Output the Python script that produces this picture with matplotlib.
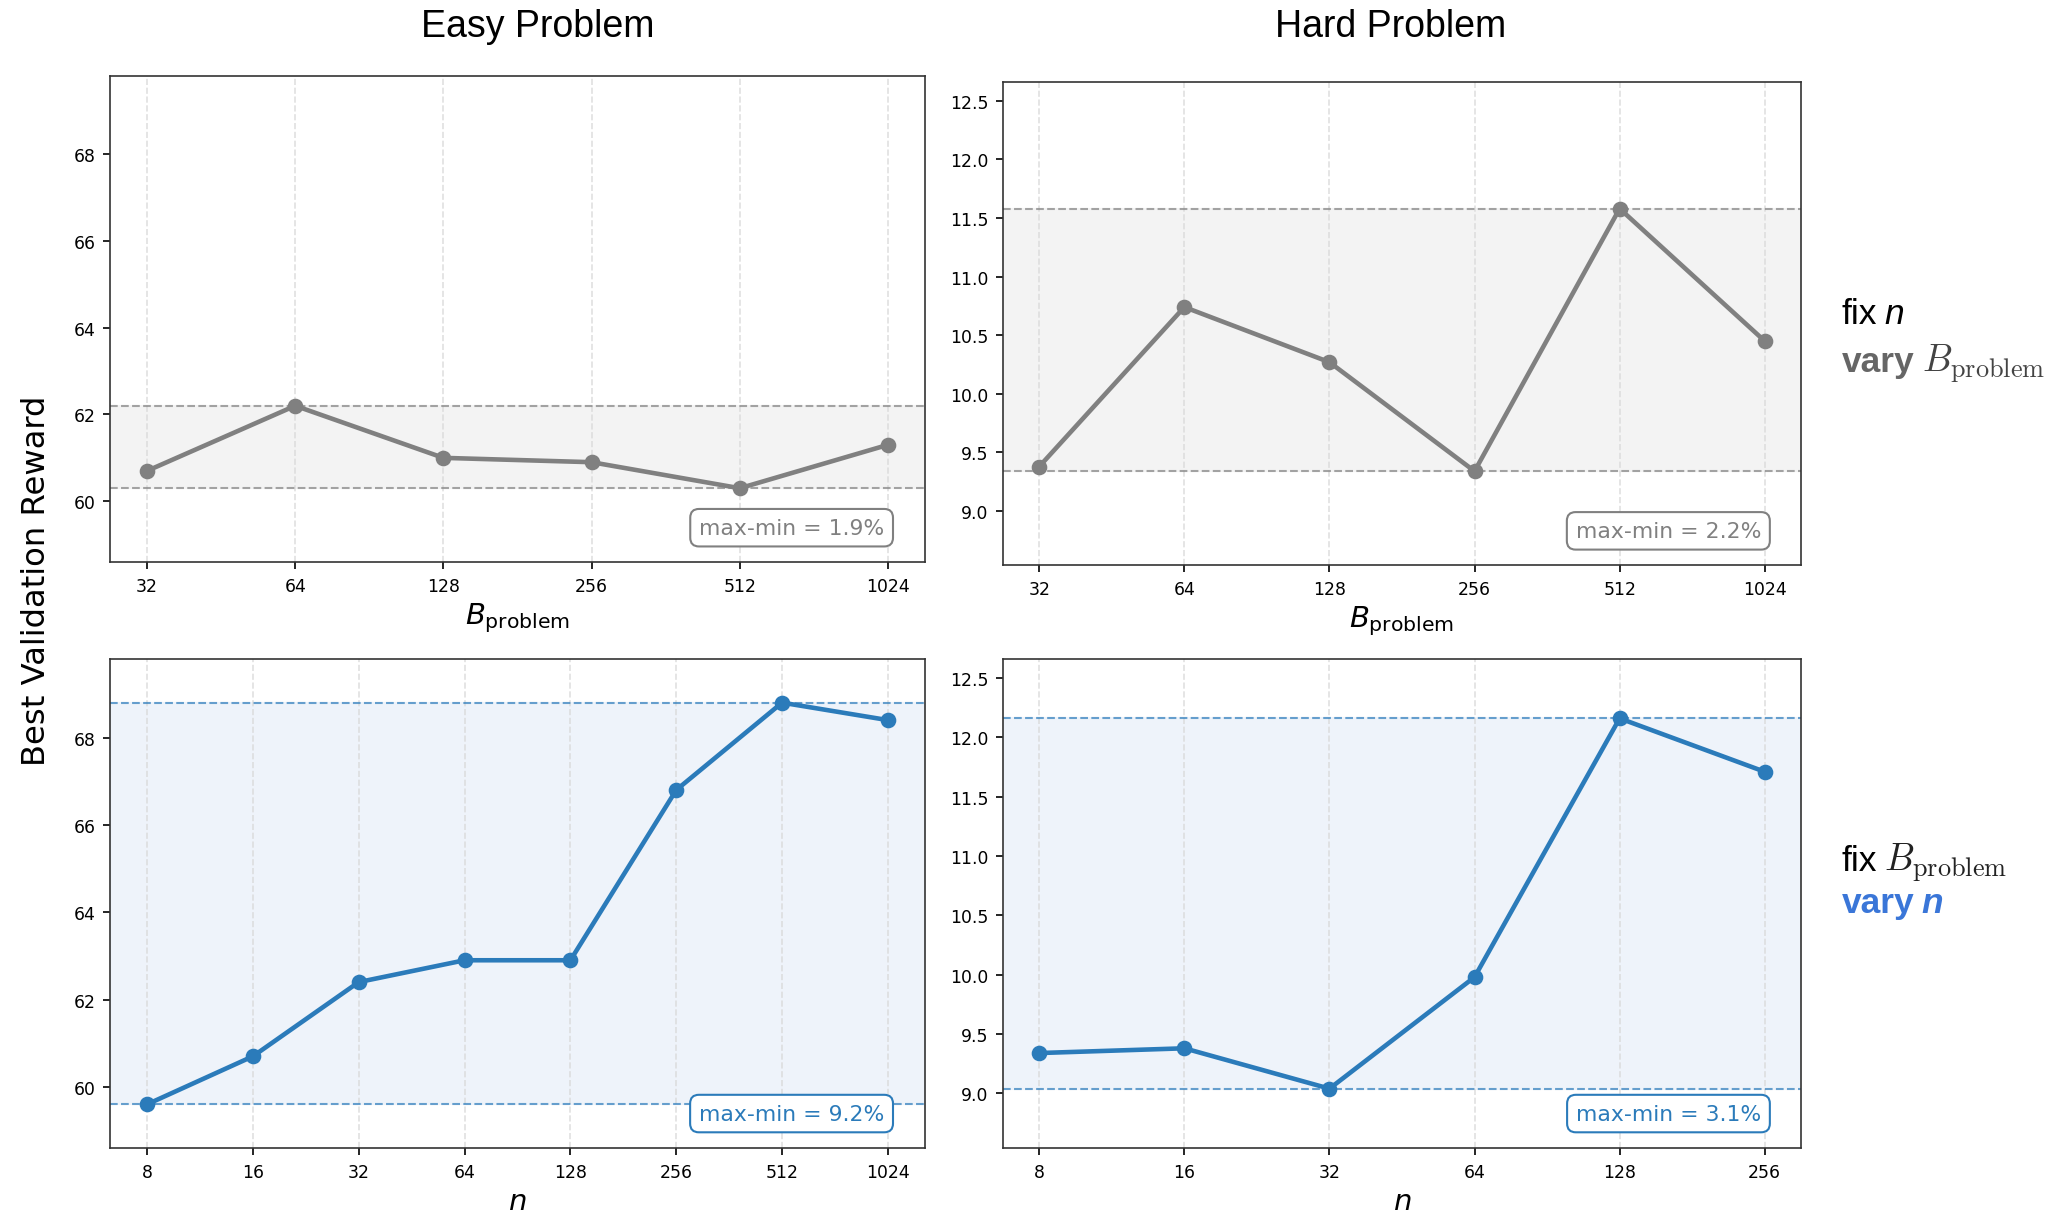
import numpy as np
import matplotlib
matplotlib.use("Agg")
import matplotlib.pyplot as plt

# data
easy_b_labels = ["32", "64", "128", "256", "512", "1024"]
easy_b_vals = [60.7, 62.2, 61.0, 60.9, 60.3, 61.3]
easy_n_labels = ["8", "16", "32", "64", "128", "256", "512", "1024"]
easy_n_vals = [59.6, 60.7, 62.4, 62.9, 62.9, 66.8, 68.8, 68.4]

hard_b_labels = ["32", "64", "128", "256", "512", "1024"]
hard_b_vals = [9.38, 10.74, 10.27, 9.34, 11.58, 10.45]
hard_n_labels = ["8", "16", "32", "64", "128", "256"]
hard_n_vals = [9.34, 9.38, 9.04, 9.98, 12.16, 11.71]

easy_yticks = [60, 62, 64, 66, 68]
hard_yticks = [9.0, 9.5, 10.0, 10.5, 11.0, 11.5, 12.0, 12.5]

GRAY = "#808080"
BLUE = "#2b7bba"
LABEL_BLUE = "#3a76d8"

W, H = 2050, 1218
fig = plt.figure(figsize=(W / 150, H / 150), dpi=150)


def px_axes(x0, y0, x1, y1):
    return fig.add_axes([x0 / W, 1 - y1 / H, (x1 - x0) / W, (y1 - y0) / H])


def panel(ax, labels, vals, color, band, ylim, yticks, xlabel):
    x = np.arange(len(labels))
    lo, hi = min(vals), max(vals)
    ax.axhspan(lo, hi, color=band, zorder=0)
    ax.axhline(lo, color=color, ls="--", lw=1.0, alpha=0.7, zorder=1)
    ax.axhline(hi, color=color, ls="--", lw=1.0, alpha=0.7, zorder=1)
    ax.plot(x, vals, "-o", color=color, lw=2.2, ms=6.5, zorder=3)
    ax.set_xticks(x)
    ax.set_xticklabels(labels)
    ax.set_xlim(-0.05 * (len(x) - 1), (len(x) - 1) * 1.05)
    ax.set_ylim(*ylim)
    ax.set_yticks(yticks)
    ax.tick_params(labelsize=8.3, colors="black")
    ax.grid(axis="x", ls="--", color="#d8d8d8", lw=0.8, alpha=0.8)
    ax.set_axisbelow(True)
    for s in ax.spines.values():
        s.set_color("#333333")
    ax.set_xlabel(xlabel, fontsize=14, labelpad=3)
    ax.text(0.95, 0.05, f"max-min = {hi - lo:.1f}%", transform=ax.transAxes,
            ha="right", va="bottom", fontsize=10.5, color=color, zorder=5,
            bbox=dict(boxstyle="round,pad=0.4", fc="white", ec=color, lw=1.0))


easy_lim = (min(easy_b_vals + easy_n_vals) - 1, max(easy_b_vals + easy_n_vals) + 1)
hard_lim = (min(hard_b_vals + hard_n_vals) - 0.5, max(hard_b_vals + hard_n_vals) + 0.5)

ax_tl = px_axes(110, 77, 925, 563)
ax_tr = px_axes(1003, 83, 1801, 566)
ax_bl = px_axes(110, 660, 925, 1149)
ax_br = px_axes(1003, 660, 1801, 1149)

panel(ax_tl, easy_b_labels, easy_b_vals, GRAY, "#f3f3f3", easy_lim, easy_yticks, r"$B_{\mathrm{problem}}$")
panel(ax_tr, hard_b_labels, hard_b_vals, GRAY, "#f3f3f3", hard_lim, hard_yticks, r"$B_{\mathrm{problem}}$")
panel(ax_bl, easy_n_labels, easy_n_vals, BLUE, "#eef3fa", easy_lim, easy_yticks, r"$n$")
panel(ax_br, hard_n_labels, hard_n_vals, BLUE, "#eef3fa", hard_lim, hard_yticks, r"$n$")

fig.text(538 / W, 1 - 27 / H, "Easy Problem", ha="center", va="center",
         fontsize=18, family="Liberation Sans")
fig.text(1391 / W, 1 - 27 / H, "Hard Problem", ha="center", va="center",
         fontsize=18, family="Liberation Sans")
fig.text(37 / W, 1 - 581 / H, "Best Validation Reward", rotation=90,
         ha="center", va="center", fontsize=15.5)

# row labels, built from pieces on one baseline
renderer = fig.canvas.get_renderer()


def row_label(y_px, pieces):
    x = 1842 / W
    y = 1 - y_px / H
    for text, kw in pieces:
        kw = dict(kw)
        kw.setdefault("fontsize", 17)
        t = fig.text(x, y, text, ha="left", va="baseline", **kw)
        bb = t.get_window_extent(renderer)
        x = bb.x1 / W + 7 / W


sans = dict(family="Liberation Sans")
row_label(324, [("fix", dict(sans, color="black")),
                ("n", dict(sans, color="black", style="italic"))])
row_label(372, [("vary", dict(sans, color="#666666", weight="bold")),
                (r"$B_{\mathrm{problem}}$", dict(color="#444444", math_fontfamily="cm", fontsize=18))])
row_label(871, [("fix", dict(sans, color="black")),
                (r"$B_{\mathrm{problem}}$", dict(color="#222222", math_fontfamily="cm", fontsize=18))])
row_label(913, [("vary", dict(sans, color=LABEL_BLUE, weight="bold")),
                ("n", dict(sans, color=LABEL_BLUE, weight="bold", style="italic"))])

fig.savefig("out.png", dpi=150)
